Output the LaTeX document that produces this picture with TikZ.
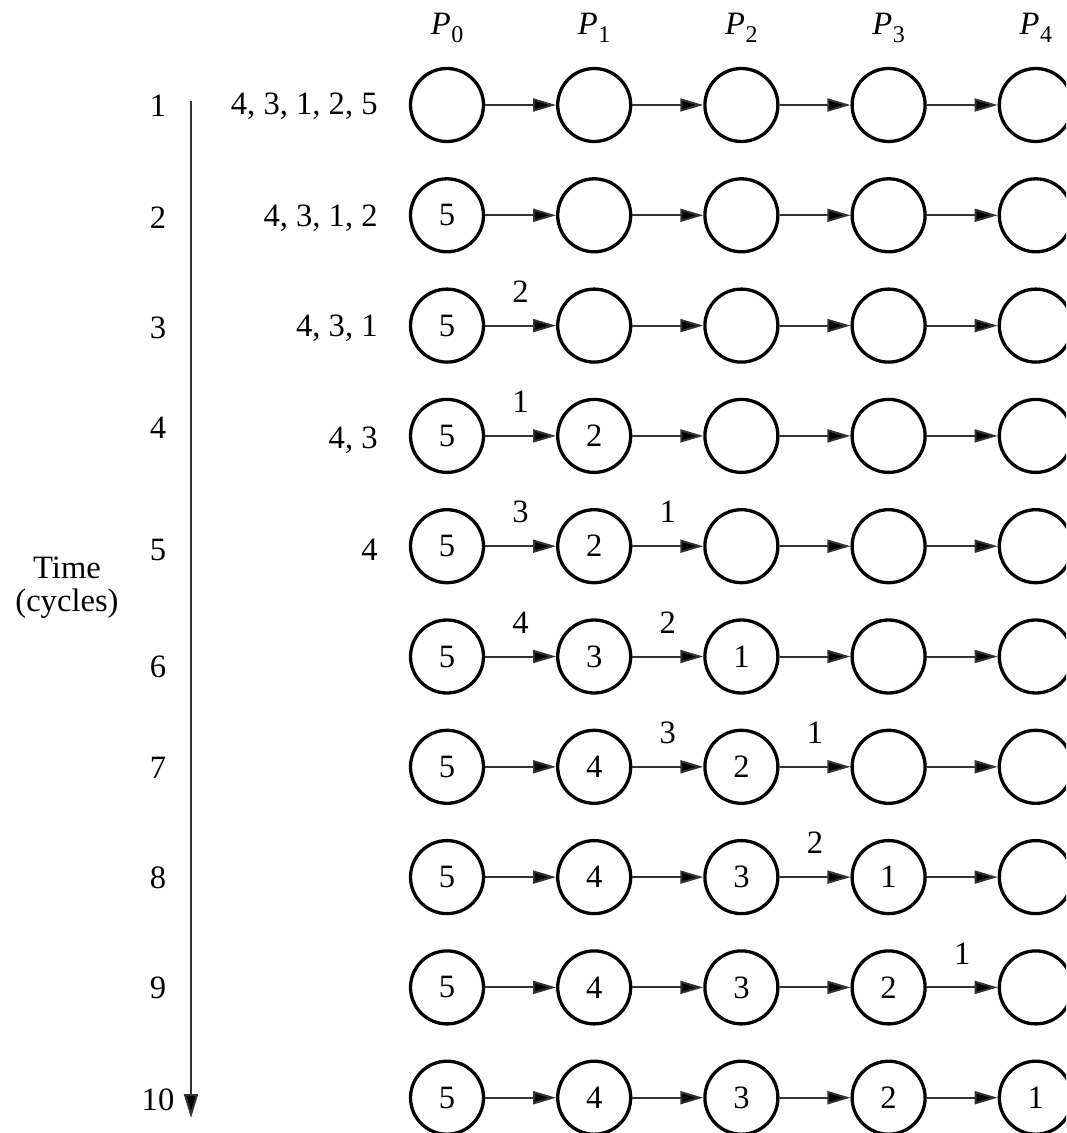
\documentclass[tikz,border=0pt]{standalone}
\usepackage{fontspec}
\setmainfont{Liberation Serif}
\usetikzlibrary{arrows.meta,calc}
\begin{document}
\begin{tikzpicture}[x=0.5pt,y=-0.5pt,
  proc/.style={circle,draw=black,line width=1.65pt,minimum size=36.5pt,inner sep=0pt,font=\fontsize{16.3}{19}\selectfont},
  conn/.style={draw=black!80,line width=1pt,-{Triangle[length=11.5pt,width=6.5pt,fill=black]}},
  timeax/.style={draw=black!80,line width=1pt,-{Triangle[length=12pt,width=7pt,fill=black]}},
  txt/.style={font=\fontsize{16.3}{19}\selectfont,inner sep=0pt},
  lbl/.style={font=\fontsize{16.3}{19}\selectfont,inner sep=0pt},
]
\useasboundingbox (0,0) rectangle (1066,1133);
\clip (0,0) rectangle (1066,1133);

% column headers
\foreach \k in {0,...,4}{
  \node[txt,anchor=base] (p\k) at ({447+147.2*\k},35) {\textit{P}\kern0.3pt\raisebox{-4pt}{\fontsize{12}{14}\selectfont \k}};
}

% process circles
\foreach \r/\a/\b/\c/\d/\e in {
  1/{}/{}/{}/{}/{},
  2/5/{}/{}/{}/{},
  3/5/{}/{}/{}/{},
  4/5/2/{}/{}/{},
  5/5/2/{}/{}/{},
  6/5/3/1/{}/{},
  7/5/4/2/{}/{},
  8/5/4/3/1/{},
  9/5/4/3/2/{},
  10/5/4/3/2/1}{
  \node[proc] (c-\r-0) at (447,{105+110.3*(\r-1)}) {\a};
  \node[proc] (c-\r-1) at (594.2,{105+110.3*(\r-1)}) {\b};
  \node[proc] (c-\r-2) at (741.4,{105+110.3*(\r-1)}) {\c};
  \node[proc] (c-\r-3) at (888.6,{105+110.3*(\r-1)}) {\d};
  \node[proc] (c-\r-4) at (1035.8,{105+110.3*(\r-1)}) {\e};
  \foreach \k [evaluate=\k as \n using int(\k+1)] in {0,...,3}{
    \draw[conn] (c-\r-\k) -- (c-\r-\n);
  }
}

% labels on links
\foreach \r/\k/\t in {3/0/2, 4/0/1, 5/0/3, 5/1/1, 6/0/4, 6/1/2, 7/1/3, 7/2/1, 8/2/2, 9/3/1}{
  \pgfmathtruncatemacro{\n}{\k+1}
  \node[lbl] (l-\r-\k) at ($(c-\r-\k.east)!0.5!(c-\r-\n.west)+(0,-34)$) {\t};
}

% waiting queues
\node[txt,anchor=east] (q1) at (378,106) {4, 3, 1, 2, 5};
\node[txt,anchor=east] (q2) at (378,218) {4, 3, 1, 2};
\node[txt,anchor=east] (q3) at (378,328) {4, 3, 1};
\node[txt,anchor=east] (q4) at (378,440) {4, 3};
\node[txt,anchor=east] (q5) at (378,550) {4};

% time axis
\coordinate (tstart) at (191,101);
\coordinate (tend) at (191,1118);
\draw[timeax] (tstart) -- (tend);

\foreach \i/\yy in {1/106, 2/218, 3/328, 4/428, 5/550, 6/667, 7/768, 8/878, 9/988, 10/1100}{
  \node[txt] (t\i) at (158,\yy) {\i};
}

\node[txt,align=center,font=\fontsize{16.3}{16.5}\selectfont] (tlabel) at (67,588) {Time\\(cycles)};
\end{tikzpicture}
\end{document}
